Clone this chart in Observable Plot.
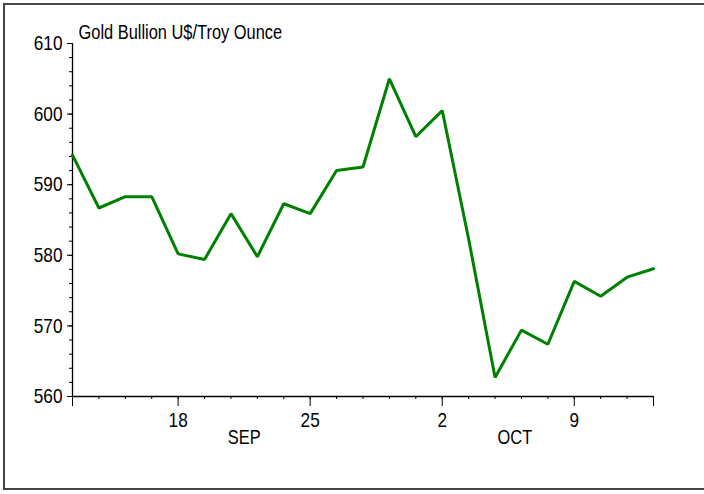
<!DOCTYPE html>
<html>
<head>
<meta charset="utf-8">
<script src="https://cdn.jsdelivr.net/npm/d3@7"></script>
<script src="https://cdn.jsdelivr.net/npm/@observablehq/plot@0.6"></script>
<style>
  html, body { margin: 0; padding: 0; background: #fff; overflow: hidden; }
  #wrap { position: relative; width: 704px; height: 494px; overflow: hidden; }
  #frame { position: absolute; left: 3px; top: 3px; width: 760px; height: 487px; border: 2px solid #454545; box-sizing: border-box; pointer-events: none; }
  #chart { position: absolute; left: 0; top: 0; }
</style>
</head>
<body>
<div id="wrap"><div id="chart"></div><div id="frame"></div></div>
<script>
const title = "Gold Bullion U$/Troy Ounce";
const dates = ["Sep 12","Sep 13","Sep 14","Sep 15","Sep 18","Sep 19","Sep 20","Sep 21","Sep 22",
               "Sep 25","Sep 26","Sep 27","Sep 28","Sep 29","Oct 2","Oct 3","Oct 4","Oct 5","Oct 6",
               "Oct 9","Oct 10","Oct 11","Oct 12"];
const prices = [594.2, 586.7, 588.3, 588.3, 580.2, 579.4, 585.9, 579.8, 587.3,
                585.9, 592.0, 592.5, 605.0, 596.8, 600.5, 582.3, 562.7, 569.4, 567.4,
                576.3, 574.2, 576.9, 578.1];
const tickDates = ["Sep 18","Sep 25","Oct 2","Oct 9"];
const tickLabels = ["18","25","2","9"];
const monthLabels = ["SEP","OCT"];
const monthAt = [6.5, 16.75];
const yTicks = [560, 570, 580, 590, 600, 610];

const FONT = "'Liberation Sans',Arial,sans-serif";
const data = prices.map((p, i) => ({i, date: dates[i], price: p}));
const tickIdx = tickDates.map(d => dates.indexOf(d));
const labelOf = new Map(tickIdx.map((k, j) => [k, tickLabels[j]]));
const last = dates.length - 1;
const months = monthLabels.map((m, j) => ({label: m, at: monthAt[j]}));

const chart = Plot.plot({
  width: 704,
  height: 494,
  marginLeft: 72,
  marginRight: 51,
  marginTop: 43,
  marginBottom: 98,
  style: {fontFamily: FONT, background: "white", color: "black", overflow: "visible"},
  x: {domain: [0, last]},
  y: {domain: [560, 610]},
  marks: [
    Plot.axisY({ticks: d3.range(560, 611, 2), tickSize: 3, tickFormat: () => "", label: null}),
    Plot.axisY({ticks: yTicks, tickSize: 5, tickPadding: 5, fontSize: 21, label: null, tickFormat: d => String(d)}),
    Plot.axisX({ticks: d3.range(0, last + 1), tickSize: 3, tickFormat: () => "", label: null}),
    Plot.axisX({ticks: [0, ...tickIdx, last], tickSize: 10, tickPadding: 6, fontSize: 21, label: null,
                tickFormat: i => labelOf.get(i) ?? ""}),
    Plot.ruleY([560], {stroke: "black", strokeWidth: 1.3}),
    Plot.ruleX([0], {stroke: "black", strokeWidth: 1.3}),
    Plot.line(data, {x: "i", y: "price", stroke: "#008000", strokeWidth: 3, strokeLinejoin: "miter"}),
    Plot.text(months, {x: "at", text: "label", frameAnchor: "bottom", dy: 41.5, fontSize: 20, lineAnchor: "middle"}),
    Plot.text([title], {frameAnchor: "top-left", dx: 6, dy: -5, lineAnchor: "bottom", textAnchor: "start", fontSize: 20})
  ]
});
document.getElementById("chart").appendChild(chart);
// condense glyphs horizontally to mimic a narrow sans face
chart.querySelectorAll("text").forEach(t => {
  if (!t.textContent) return;
  const L = t.getComputedTextLength();
  if (L > 0) {
    t.setAttribute("textLength", (L * 0.82).toFixed(2));
    t.setAttribute("lengthAdjust", "spacingAndGlyphs");
  }
});
</script>
</body>
</html>
